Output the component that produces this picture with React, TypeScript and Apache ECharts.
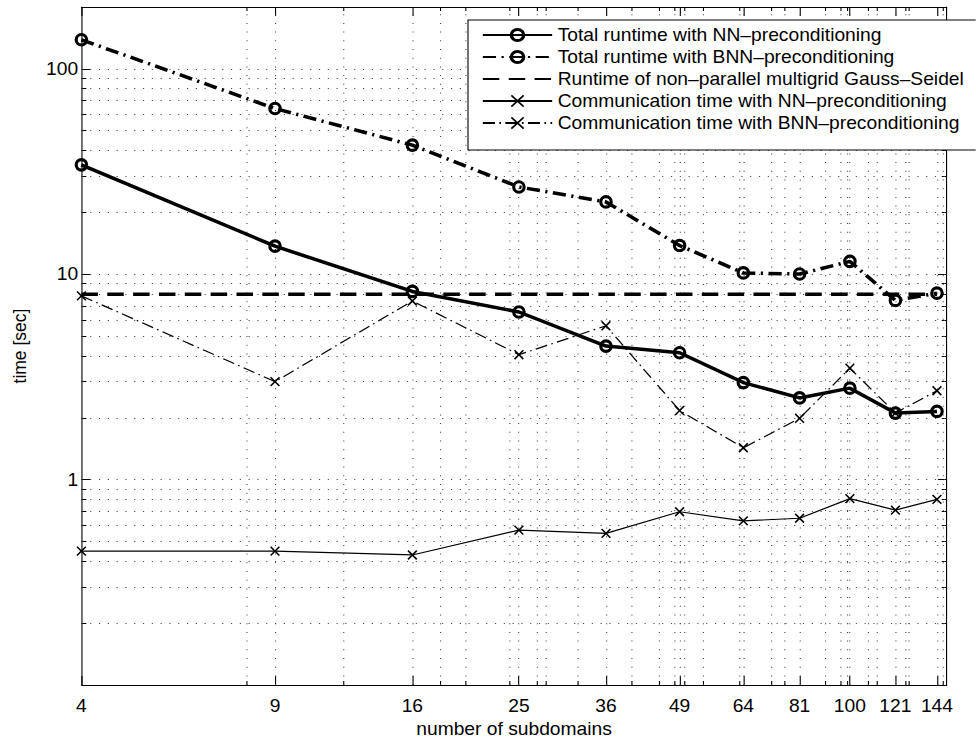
import React, { useEffect, useRef } from 'react';
import * as echarts from 'echarts';

// horizontal stretch of the original raster (text is wider than tall)
const S = 1.1;
const W = 976 / S;
const H = 743;
const FONT = '"Liberation Sans", Arial, Helvetica, sans-serif';
const FS = 17.5;

const subdomains = [4, 9, 16, 25, 36, 49, 64, 81, 100, 121, 144];
const totalNN = [34.1, 13.7, 8.25, 6.55, 4.47, 4.15, 2.97, 2.5, 2.79, 2.11, 2.15];
const totalBNN = [138.5, 64.1, 42.5, 26.6, 22.5, 13.8, 10.15, 10.03, 11.55, 7.46, 8.09];
const gaussSeidel = [8.0, 8.0, 8.0, 8.0, 8.0, 8.0, 8.0, 8.0, 8.0, 8.0, 8.0];
const commNN = [0.449, 0.449, 0.43, 0.568, 0.548, 0.698, 0.63, 0.649, 0.809, 0.711, 0.802];
const commBNN = [7.85, 3.0, 7.41, 4.06, 5.61, 2.17, 1.43, 1.99, 3.49, 2.11, 2.71];

const seriesNames = [
  'Total runtime with NN\u2013preconditioning',
  'Total runtime with BNN\u2013preconditioning',
  'Runtime of non\u2013parallel multigrid Gauss\u2013Seidel',
  'Communication time with NN\u2013preconditioning',
  'Communication time with BNN\u2013preconditioning',
];

const xTicks = [4, 9, 16, 25, 36, 49, 64, 81, 100, 121, 144];
const xMinor = [8, 12, 18, 20, 24, 27, 28, 32, 40, 45, 48, 50, 54, 63, 72, 76, 90, 96, 99, 108, 112, 126, 128, 148];
const xGridMajor = [9, 16, 25, 36, 49, 64, 81, 100, 121, 144];
const yTicks = [1, 10, 100];
const yMinor = [0.2, 0.3, 0.4, 0.5, 0.6, 0.7, 0.8, 0.9, 2, 3, 4, 5, 6, 7, 8, 9, 20, 30, 40, 50, 60, 70, 80, 90, 200];
const yGrid = [0.2, 0.3, 0.4, 0.5, 0.6, 0.7, 0.8, 0.9, 1, 2, 3, 4, 5, 6, 7, 8, 9, 10, 20, 30, 40, 50, 60, 70, 80, 90, 100];

const circlePath = 'path://M0,-1A1,1,0,1,1,0,1A1,1,0,1,1,0,-1Z';
const crossPath = 'path://M-1,-1L1,1M-1,1L1,-1';

export default function App() {
  const ref = useRef<HTMLDivElement>(null);
  useEffect(() => {
    if (!ref.current) return;
    const chart = echarts.init(ref.current, null, { renderer: 'svg' });
    const pts = (ys: number[]) => subdomains.map((x, i) => [x, ys[i]]);
    const label = { color: '#000', fontSize: FS, fontFamily: FONT };

    const xAx = (pos: 'bottom' | 'top', major: boolean) => ({
      type: 'log', logBase: 10, min: 4, max: 150, position: pos,
      axisLine: { show: major, onZero: false, lineStyle: { color: '#000', width: 1 } },
      axisTick: { show: true, inside: true, length: major ? 9 : 4, customValues: major ? xTicks : xMinor, lineStyle: { color: '#000', width: 1 } },
      axisLabel: major && pos === 'bottom' ? { show: true, customValues: xTicks, margin: 12, ...label } : { show: false },
      splitLine: { show: false },
      ...(major && pos === 'bottom' ? { name: 'number of subdomains', nameLocation: 'middle', nameGap: 34, nameTextStyle: label } : {}),
    });
    const yAx = (pos: 'left' | 'right', major: boolean) => ({
      type: 'log', logBase: 10, min: 0.1, max: 200, position: pos,
      axisLine: { show: major, onZero: false, lineStyle: { color: '#000', width: 1 } },
      axisTick: { show: true, inside: true, length: major ? 8 : 4.5, customValues: major ? yTicks : yMinor, lineStyle: { color: '#000', width: 1 } },
      axisLabel: major && pos === 'left' ? { show: true, customValues: yTicks, margin: 3, ...label } : { show: false },
      splitLine: { show: false },
      ...(major && pos === 'left' ? { name: 'time [sec]', nameLocation: 'middle', nameGap: 48, nameTextStyle: label } : {}),
    });

    const gridStyleV = { color: '#444', width: 1, type: [1, 7.7], opacity: 1 };
    const gridStyleH = { color: '#444', width: 1, type: [1, 7], opacity: 1 };

    const base = { type: 'line', xAxisIndex: 0, yAxisIndex: 0, emphasis: { disabled: true }, silent: true, animation: false };

    chart.setOption({
      animation: false,
      backgroundColor: '#fff',
      grid: { left: 76.7 / S, right: W - 947 / S, top: 7, bottom: 51 },
      xAxis: [xAx('bottom', true), xAx('bottom', false), xAx('top', true), xAx('top', false)],
      yAxis: [yAx('left', true), yAx('left', false), yAx('right', true), yAx('right', false)],
      legend: {
        orient: 'vertical', left: 468 / S, top: 20,
        padding: [6, 12, 18, 12.5],
        itemWidth: 63, itemHeight: 14, itemGap: 4,
        backgroundColor: '#fff', borderColor: '#000', borderWidth: 1, borderRadius: 0,
        textStyle: { color: '#000', fontSize: FS, fontFamily: FONT, lineHeight: 17 },
        selectedMode: false,
        data: [
          { name: seriesNames[0], itemStyle: { borderWidth: 3 } },
          { name: seriesNames[1], itemStyle: { borderWidth: 3 } },
          { name: seriesNames[2], itemStyle: { color: 'rgba(0,0,0,0)', borderWidth: 0, opacity: 0 } },
          { name: seriesNames[3], itemStyle: { borderWidth: 1.5 } },
          { name: seriesNames[4], itemStyle: { borderWidth: 1.5 } },
        ],
      },
      series: [
        {
          ...base, name: seriesNames[0], data: pts(totalNN), z: 4,
          symbol: circlePath, symbolSize: [9.5, 10.5],
          itemStyle: { color: 'rgba(0,0,0,0)', borderColor: '#000', borderWidth: 3 },
          lineStyle: { color: '#000', width: 3.5, type: 'solid' },
        },
        {
          ...base, name: seriesNames[1], data: pts(totalBNN), z: 4,
          symbol: circlePath, symbolSize: [9.5, 10.5],
          itemStyle: { color: 'rgba(0,0,0,0)', borderColor: '#000', borderWidth: 3 },
          lineStyle: { color: '#000', width: 3.5, type: [12, 5, 2, 5] },
        },
        {
          ...base, name: seriesNames[2], data: pts(gaussSeidel), z: 3,
          symbol: 'none',
          itemStyle: { color: '#000' },
          lineStyle: { color: '#000', width: 3.5, type: [15, 8.5] },
          markLine: {
            silent: true, animation: false, z: 1, symbol: ['none', 'none'],
            label: { show: false }, emphasis: { disabled: true },
            data: [
              ...xGridMajor.map((v) => ({ xAxis: v, lineStyle: gridStyleV })),
              ...xMinor.map((v) => ({ xAxis: v, lineStyle: gridStyleV })),
              ...yGrid.map((v) => ({ yAxis: v, lineStyle: gridStyleH })),
            ],
          },
        },
        {
          ...base, name: seriesNames[3], data: pts(commNN), z: 4,
          symbol: crossPath, symbolSize: [8, 8.8],
          itemStyle: { color: 'rgba(0,0,0,0)', borderColor: '#000', borderWidth: 1.5 },
          lineStyle: { color: '#000', width: 1.2, type: 'solid' },
        },
        {
          ...base, name: seriesNames[4], data: pts(commBNN), z: 4,
          symbol: crossPath, symbolSize: [8, 8.8],
          itemStyle: { color: 'rgba(0,0,0,0)', borderColor: '#000', borderWidth: 1.5 },
          lineStyle: { color: '#000', width: 1.2, type: [11, 4, 1.5, 4] },
        },
      ],
    });
    return () => chart.dispose();
  }, []);
  return (
    <div
      ref={ref}
      style={{
        position: 'fixed', left: 0, top: 0, width: W, height: H,
        transform: `scaleX(${S})`, transformOrigin: '0 0', background: '#fff',
      }}
    />
  );
}
